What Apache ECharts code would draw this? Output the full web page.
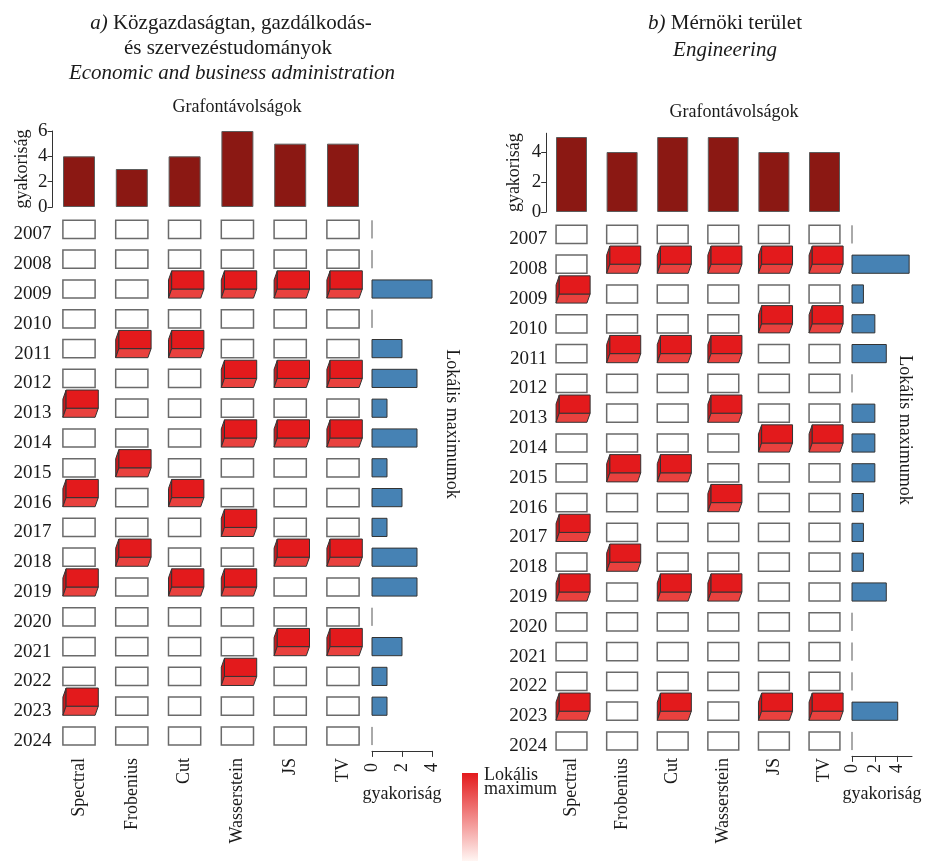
<!DOCTYPE html>
<html>
<head>
<meta charset="utf-8">
<title>Grafontávolságok – lokális maximumok</title>
<script src="https://cdn.jsdelivr.net/npm/echarts@6/dist/echarts.min.js"></script>
<style>
  html, body { margin: 0; padding: 0; background: #fff; }
  #chart { width: 927px; height: 861px; }
</style>
</head>
<body>
<div id="chart"></div>
<script>
// Graph distance measures (columns) and years (rows)
const methods = ['Spectral', 'Frobenius', 'Cut', 'Wasserstein', 'JS', 'TV'];
const years = ['2007', '2008', '2009', '2010', '2011', '2012', '2013', '2014', '2015',
               '2016', '2017', '2018', '2019', '2020', '2021', '2022', '2023', '2024'];

// 1 = the distance series of that measure has a local maximum in that year
// a) Economic and business administration
const peaksA = [
  [0, 0, 0, 0, 0, 0], // 2007
  [0, 0, 0, 0, 0, 0], // 2008
  [0, 0, 1, 1, 1, 1], // 2009
  [0, 0, 0, 0, 0, 0], // 2010
  [0, 1, 1, 0, 0, 0], // 2011
  [0, 0, 0, 1, 1, 1], // 2012
  [1, 0, 0, 0, 0, 0], // 2013
  [0, 0, 0, 1, 1, 1], // 2014
  [0, 1, 0, 0, 0, 0], // 2015
  [1, 0, 1, 0, 0, 0], // 2016
  [0, 0, 0, 1, 0, 0], // 2017
  [0, 1, 0, 0, 1, 1], // 2018
  [1, 0, 1, 1, 0, 0], // 2019
  [0, 0, 0, 0, 0, 0], // 2020
  [0, 0, 0, 0, 1, 1], // 2021
  [0, 0, 0, 1, 0, 0], // 2022
  [1, 0, 0, 0, 0, 0], // 2023
  [0, 0, 0, 0, 0, 0]  // 2024
];
// b) Engineering
const peaksB = [
  [0, 0, 0, 0, 0, 0], // 2007
  [0, 1, 1, 1, 1, 1], // 2008
  [1, 0, 0, 0, 0, 0], // 2009
  [0, 0, 0, 0, 1, 1], // 2010
  [0, 1, 1, 1, 0, 0], // 2011
  [0, 0, 0, 0, 0, 0], // 2012
  [1, 0, 0, 1, 0, 0], // 2013
  [0, 0, 0, 0, 1, 1], // 2014
  [0, 1, 1, 0, 0, 0], // 2015
  [0, 0, 0, 1, 0, 0], // 2016
  [1, 0, 0, 0, 0, 0], // 2017
  [0, 1, 0, 0, 0, 0], // 2018
  [1, 0, 1, 1, 0, 0], // 2019
  [0, 0, 0, 0, 0, 0], // 2020
  [0, 0, 0, 0, 0, 0], // 2021
  [0, 0, 0, 0, 0, 0], // 2022
  [1, 0, 1, 0, 1, 1], // 2023
  [0, 0, 0, 0, 0, 0]  // 2024
];

// Frequencies: number of maxima per measure (top bars) and per year (side bars)
const methodCountA = [4, 3, 4, 6, 5, 5];
const methodCountB = [5, 4, 5, 5, 4, 4];
const yearCountA = [0, 0, 4, 0, 2, 3, 1, 3, 1, 2, 1, 3, 3, 0, 2, 1, 1, 0];
const yearCountB = [0, 5, 1, 2, 3, 0, 2, 2, 2, 1, 1, 1, 3, 0, 0, 0, 4, 0];

// Tick labels of the frequency axes
const topTicksA = [0, 2, 4, 6];
const topTicksB = [0, 2, 4];
const sideTicksA = [0, 2, 4];
const sideTicksB = [0, 2, 4];

const FONT = '"Liberation Serif", "Times New Roman", serif';
const INK = '#1a1a1a';

// One cell of the year × measure matrix: an empty box, or a raised red block for a maximum
function renderCell(params, api) {
  const c = api.coord([api.value(0), api.value(1)]);
  const band = api.size([1, 1]);
  const w = band[0] * 0.61, h = band[1] * 0.61;
  const x0 = c[0] - w / 2, y0 = c[1] - h / 2;
  if (!api.value(2)) {
    return {
      type: 'rect',
      shape: { x: x0, y: y0, width: w, height: h },
      style: { fill: '#ffffff', stroke: '#6a6a6a', lineWidth: 1.5 }
    };
  }
  const dx = 3.2, dy = h / 2;
  const fx = x0 + dx, fy = y0 - dy;
  return {
    type: 'group',
    children: [
      { type: 'polygon', shape: { points: [[fx, fy], [fx, fy + h], [x0, y0 + h], [x0, y0]] },
        style: { fill: '#c9181c', stroke: '#333', lineWidth: 1 } },
      { type: 'polygon', shape: { points: [[fx, fy + h], [fx + w, fy + h], [x0 + w, y0 + h], [x0, y0 + h]] },
        style: { fill: '#e9413e', stroke: '#333', lineWidth: 1 } },
      { type: 'rect', shape: { x: fx, y: fy, width: w, height: h },
        style: { fill: '#e31a1c', stroke: '#333', lineWidth: 1 } }
    ]
  };
}

// Horizontal frequency bar for one year; a zero count is a thin stub
function renderCount(params, api) {
  const v = api.value(0), yi = api.value(1);
  const p0 = api.coord([0, yi]), p1 = api.coord([v, yi]);
  const h = api.size([0, 1])[1] * 0.61;
  if (v === 0) {
    return { type: 'line', shape: { x1: p0[0], y1: p0[1] - h / 2, x2: p0[0], y2: p0[1] + h / 2 },
             style: { stroke: '#555', lineWidth: 1 } };
  }
  return { type: 'rect', shape: { x: p0[0], y: p0[1] - h / 2, width: p1[0] - p0[0], height: h },
           style: { fill: '#4682b4', stroke: '#333', lineWidth: 1 } };
}

const grid = [], xAxis = [], yAxis = [], series = [];

function addPanel(p) {
  const g0 = grid.length;
  grid.push({ left: p.left, width: p.width, top: p.barTop, height: p.barHeight });
  grid.push({ left: p.left, width: p.width, top: p.cellTop, height: p.cellHeight });
  grid.push({ left: p.sideLeft, width: p.sideWidth, top: p.cellTop, height: p.cellHeight });

  const label = { fontFamily: FONT, color: INK };

  // top frequency chart
  xAxis.push({ type: 'category', gridIndex: g0, data: methods, show: false });
  yAxis.push({
    type: 'value', gridIndex: g0, min: 0, max: p.barMax,
    axisLine: { show: true, lineStyle: { color: '#333', width: 1 } },
    axisTick: { show: true, length: 5, lineStyle: { color: '#333' }, customValues: p.topTicks },
    axisLabel: Object.assign({ fontSize: 19, margin: 5, customValues: p.topTicks }, label),
    splitLine: { show: false },
    name: 'gyakoriság', nameLocation: 'middle', nameGap: p.barNameGap,
    nameTextStyle: { fontFamily: FONT, fontSize: 18, color: INK }
  });

  // matrix
  xAxis.push({
    type: 'category', gridIndex: g0 + 1, data: methods, position: 'bottom',
    axisLine: { show: false }, axisTick: { show: false },
    axisLabel: Object.assign({ fontSize: 18, rotate: 90, margin: p.methodMargin, interval: 0 }, label)
  });
  yAxis.push({
    type: 'category', gridIndex: g0 + 1, data: years, inverse: true,
    axisLine: { show: false }, axisTick: { show: false },
    axisLabel: Object.assign({ fontSize: 19, margin: p.yearMargin, interval: 0,
                               verticalAlign: 'top', lineHeight: 10 }, label)
  });

  // side frequency chart
  xAxis.push({
    type: 'value', gridIndex: g0 + 2, min: 0, max: p.sideMax, position: 'bottom',
    axisLine: { show: true, lineStyle: { color: '#333', width: 1 } },
    axisTick: { show: true, length: 6, lineStyle: { color: '#333' }, customValues: p.sideTicks },
    axisLabel: Object.assign({ fontSize: 18, rotate: 90, margin: p.sideLabelMargin, customValues: p.sideTicks }, label),
    splitLine: { show: false },
    name: 'gyakoriság', nameLocation: 'middle', nameGap: p.sideNameGap,
    nameTextStyle: { fontFamily: FONT, fontSize: 18, color: INK }
  });
  yAxis.push({ type: 'category', gridIndex: g0 + 2, data: years, inverse: true, show: false });

  series.push({
    type: 'bar', xAxisIndex: g0, yAxisIndex: g0, data: p.methodCount, barWidth: p.barWidth,
    itemStyle: { color: '#8b1813', borderColor: '#5c5c5c', borderWidth: 1 },
    silent: true
  });

  const cells = [];
  p.peaks.forEach((row, yi) => row.forEach((flag, mi) => cells.push([mi, yi, flag])));
  series.push({
    type: 'custom', xAxisIndex: g0 + 1, yAxisIndex: g0 + 1,
    renderItem: renderCell, data: cells, encode: { x: 0, y: 1 }, silent: true
  });

  series.push({
    type: 'custom', xAxisIndex: g0 + 2, yAxisIndex: g0 + 2,
    renderItem: renderCount, data: p.yearCount.map((v, yi) => [v, yi]),
    encode: { x: 0, y: 1 }, silent: true
  });
}

addPanel({
  left: 52.6, width: 316.8,
  barTop: 131, barHeight: 76, barMax: 6, topTicks: topTicksA, barWidth: 32, barNameGap: 21,
  cellTop: 214.5, cellHeight: 536.4,
  sideLeft: 372, sideWidth: 60, sideMax: 4, sideTicks: sideTicksA,
  methodMargin: 7, yearMargin: 1, sideLabelMargin: 12, sideNameGap: 34,
  peaks: peaksA, methodCount: methodCountA, yearCount: yearCountA
});

addPanel({
  left: 546.2, width: 303.6,
  barTop: 133.25, barHeight: 78.75, barMax: 5.25, topTicks: topTicksB, barWidth: 31, barNameGap: 23,
  cellTop: 219.5, cellHeight: 536.4,
  sideLeft: 852, sideWidth: 60, sideMax: 5.25, sideTicks: sideTicksB,
  methodMargin: 2, yearMargin: -1, sideLabelMargin: 8, sideNameGap: 29,
  peaks: peaksB, methodCount: methodCountB, yearCount: yearCountB
});

function text(x, y, str, size, extra) {
  return Object.assign({
    type: 'text', x: x, y: y, silent: true,
    style: {
      text: str, fontFamily: FONT, fontSize: size, fill: INK,
      align: 'center', verticalAlign: 'middle',
      rich: {
        n: { fontFamily: FONT, fontSize: size, fill: INK },
        i: { fontFamily: FONT, fontSize: size, fill: INK, fontStyle: 'italic' }
      }
    }
  }, extra || {});
}

const graphic = [
  text(231, 23, '{i|a)}{n| Közgazdaságtan, gazdálkodás-}', 21),
  text(228, 48, 'és szervezéstudományok', 21),
  text(232, 73, '{i|Economic and business administration}', 21),
  text(725, 23, '{i|b)}{n| Mérnöki terület}', 21),
  text(725, 50, '{i|Engineering}', 21),
  text(237, 107, 'Grafontávolságok', 18),
  text(734, 112, 'Grafontávolságok', 18),
  text(452, 424, 'Lokális maximumok', 18, { rotation: -Math.PI / 2 }),
  text(905, 430, 'Lokális maximumok', 18, { rotation: -Math.PI / 2 }),
  {
    type: 'rect', silent: true,
    shape: { x: 462, y: 773, width: 16, height: 88 },
    style: {
      fill: new echarts.graphic.LinearGradient(0, 0, 0, 1, [
        { offset: 0, color: '#e31a1c' },
        { offset: 1, color: '#fff6f3' }
      ])
    }
  },
  {
    type: 'text', x: 484, y: 782, silent: true,
    style: {
      text: 'Lokális\nmaximum', fontFamily: FONT, fontSize: 18, fill: INK,
      align: 'left', verticalAlign: 'middle', lineHeight: 14
    }
  }
];

const chart = echarts.init(document.getElementById('chart'), null, { renderer: 'canvas' });
chart.setOption({
  animation: false,
  backgroundColor: '#ffffff',
  grid: grid,
  xAxis: xAxis,
  yAxis: yAxis,
  series: series,
  graphic: graphic
});
</script>
</body>
</html>
